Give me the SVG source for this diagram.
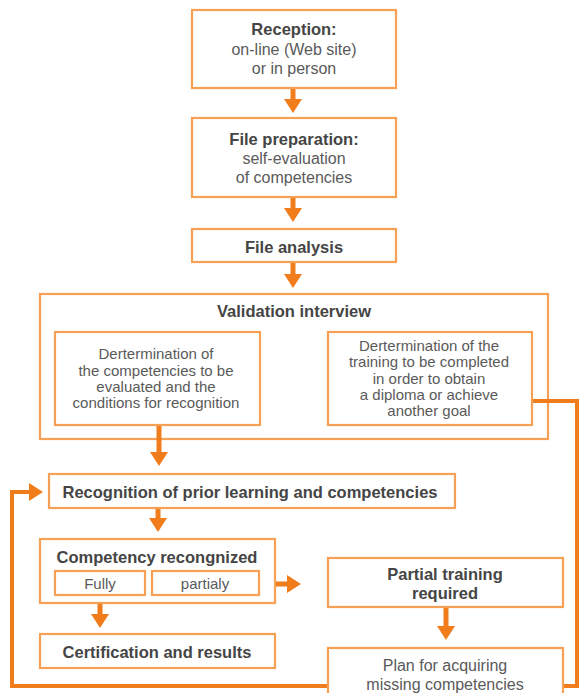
<svg xmlns="http://www.w3.org/2000/svg" width="579" height="693" viewBox="0 0 579 693">
<defs>
<style>
.box{fill:#fff;stroke:#F5A055;stroke-width:2.2}
.h{font-family:"Liberation Sans",Arial,sans-serif;font-weight:bold;font-size:16.5px;fill:#454545;text-anchor:middle}
.t{font-family:"Liberation Sans",Arial,sans-serif;font-size:16px;fill:#5a5a5a;text-anchor:middle}
.s{font-family:"Liberation Sans",Arial,sans-serif;font-size:15px;fill:#5a5a5a;text-anchor:middle}
.c{fill:none;stroke:#F07C1C;stroke-width:5}
.loop{fill:none;stroke:#F07C1C;stroke-width:4}
</style>
<marker id="ah" markerUnits="userSpaceOnUse" markerWidth="14" markerHeight="18" refX="0" refY="9" orient="auto">
<path d="M0,0 L14,9 L0,18 z" fill="#F07C1C"/>
</marker>
</defs>
<rect width="579" height="693" fill="#fff"/>
<g id="validation-interview">
<rect class="box" x="40" y="294" width="508" height="145"/>
<text class="h" x="294" y="317">Validation interview</text>
</g>
<g id="connectors">
<path class="loop" d="M532,401 H577 V686 H12 V492 H29" marker-end="url(#ah)"/>
<path class="c" d="M293,88 V99" marker-end="url(#ah)"/>
<path class="c" d="M293,197 V208" marker-end="url(#ah)"/>
<path class="c" d="M293,262 V274" marker-end="url(#ah)"/>
<path class="c" d="M159,425 V452" marker-end="url(#ah)"/>
<path class="c" d="M158,508 V518" marker-end="url(#ah)"/>
<path class="c" d="M100,595 V614" marker-end="url(#ah)"/>
<path class="c" d="M259,584 H287" marker-end="url(#ah)"/>
<path class="c" d="M446,607 V626" marker-end="url(#ah)"/>
</g>
<g id="reception">
<rect class="box" x="192" y="10" width="204" height="78"/>
<text class="h" x="294" y="35">Reception:</text>
<text class="t" x="294" y="55">on-line (Web site)</text>
<text class="t" x="294" y="74">or in person</text>
</g>
<g id="file-preparation">
<rect class="box" x="192" y="118" width="204" height="79"/>
<text class="h" x="294" y="145">File preparation:</text>
<text class="t" x="294" y="164">self-evaluation</text>
<text class="t" x="294" y="183">of competencies</text>
</g>
<g id="file-analysis">
<rect class="box" x="192" y="229" width="204" height="33"/>
<text class="h" x="294" y="253">File analysis</text>
</g>
<g id="determination-competencies">
<rect class="box" x="55" y="332" width="205" height="93"/>
<text class="s" x="156" y="359">Dertermination of</text>
<text class="s" x="156" y="376">the competencies to be</text>
<text class="s" x="156" y="392">evaluated and the</text>
<text class="s" x="156" y="408">conditions for recognition</text>
</g>
<g id="determination-training">
<rect class="box" x="328" y="332" width="204" height="93"/>
<text class="s" x="429" y="351">Dertermination of the</text>
<text class="s" x="429" y="367">training to be completed</text>
<text class="s" x="429" y="384">in order to obtain</text>
<text class="s" x="429" y="400">a diploma or achieve</text>
<text class="s" x="429" y="416">another goal</text>
</g>
<g id="recognition">
<rect class="box" x="49" y="474" width="406" height="34"/>
<text class="h" x="250" y="498">Recognition of prior learning and competencies</text>
</g>
<g id="competency-recognized">
<rect class="box" x="40" y="539" width="235" height="64"/>
<text class="h" x="157" y="563">Competency recongnized</text>
</g>
<g id="fully">
<rect class="box" x="55" y="571" width="90" height="24"/>
<text class="s" x="100" y="589">Fully</text>
</g>
<g id="partialy">
<rect class="box" x="152" y="571" width="107" height="24"/>
<text class="s" x="205" y="589">partialy</text>
</g>
<g id="certification">
<rect class="box" x="40" y="634" width="235" height="34"/>
<text class="h" x="157" y="658">Certification and results</text>
</g>
<g id="partial-training">
<rect class="box" x="328" y="558" width="235" height="49"/>
<text class="h" x="445" y="580">Partial training</text>
<text class="h" x="445" y="599">required</text>
</g>
<g id="plan">
<rect class="box" x="328" y="648" width="235" height="60"/>
<text class="t" x="445" y="671">Plan for acquiring</text>
<text class="t" x="445" y="690">missing competencies</text>
</g>
</svg>
